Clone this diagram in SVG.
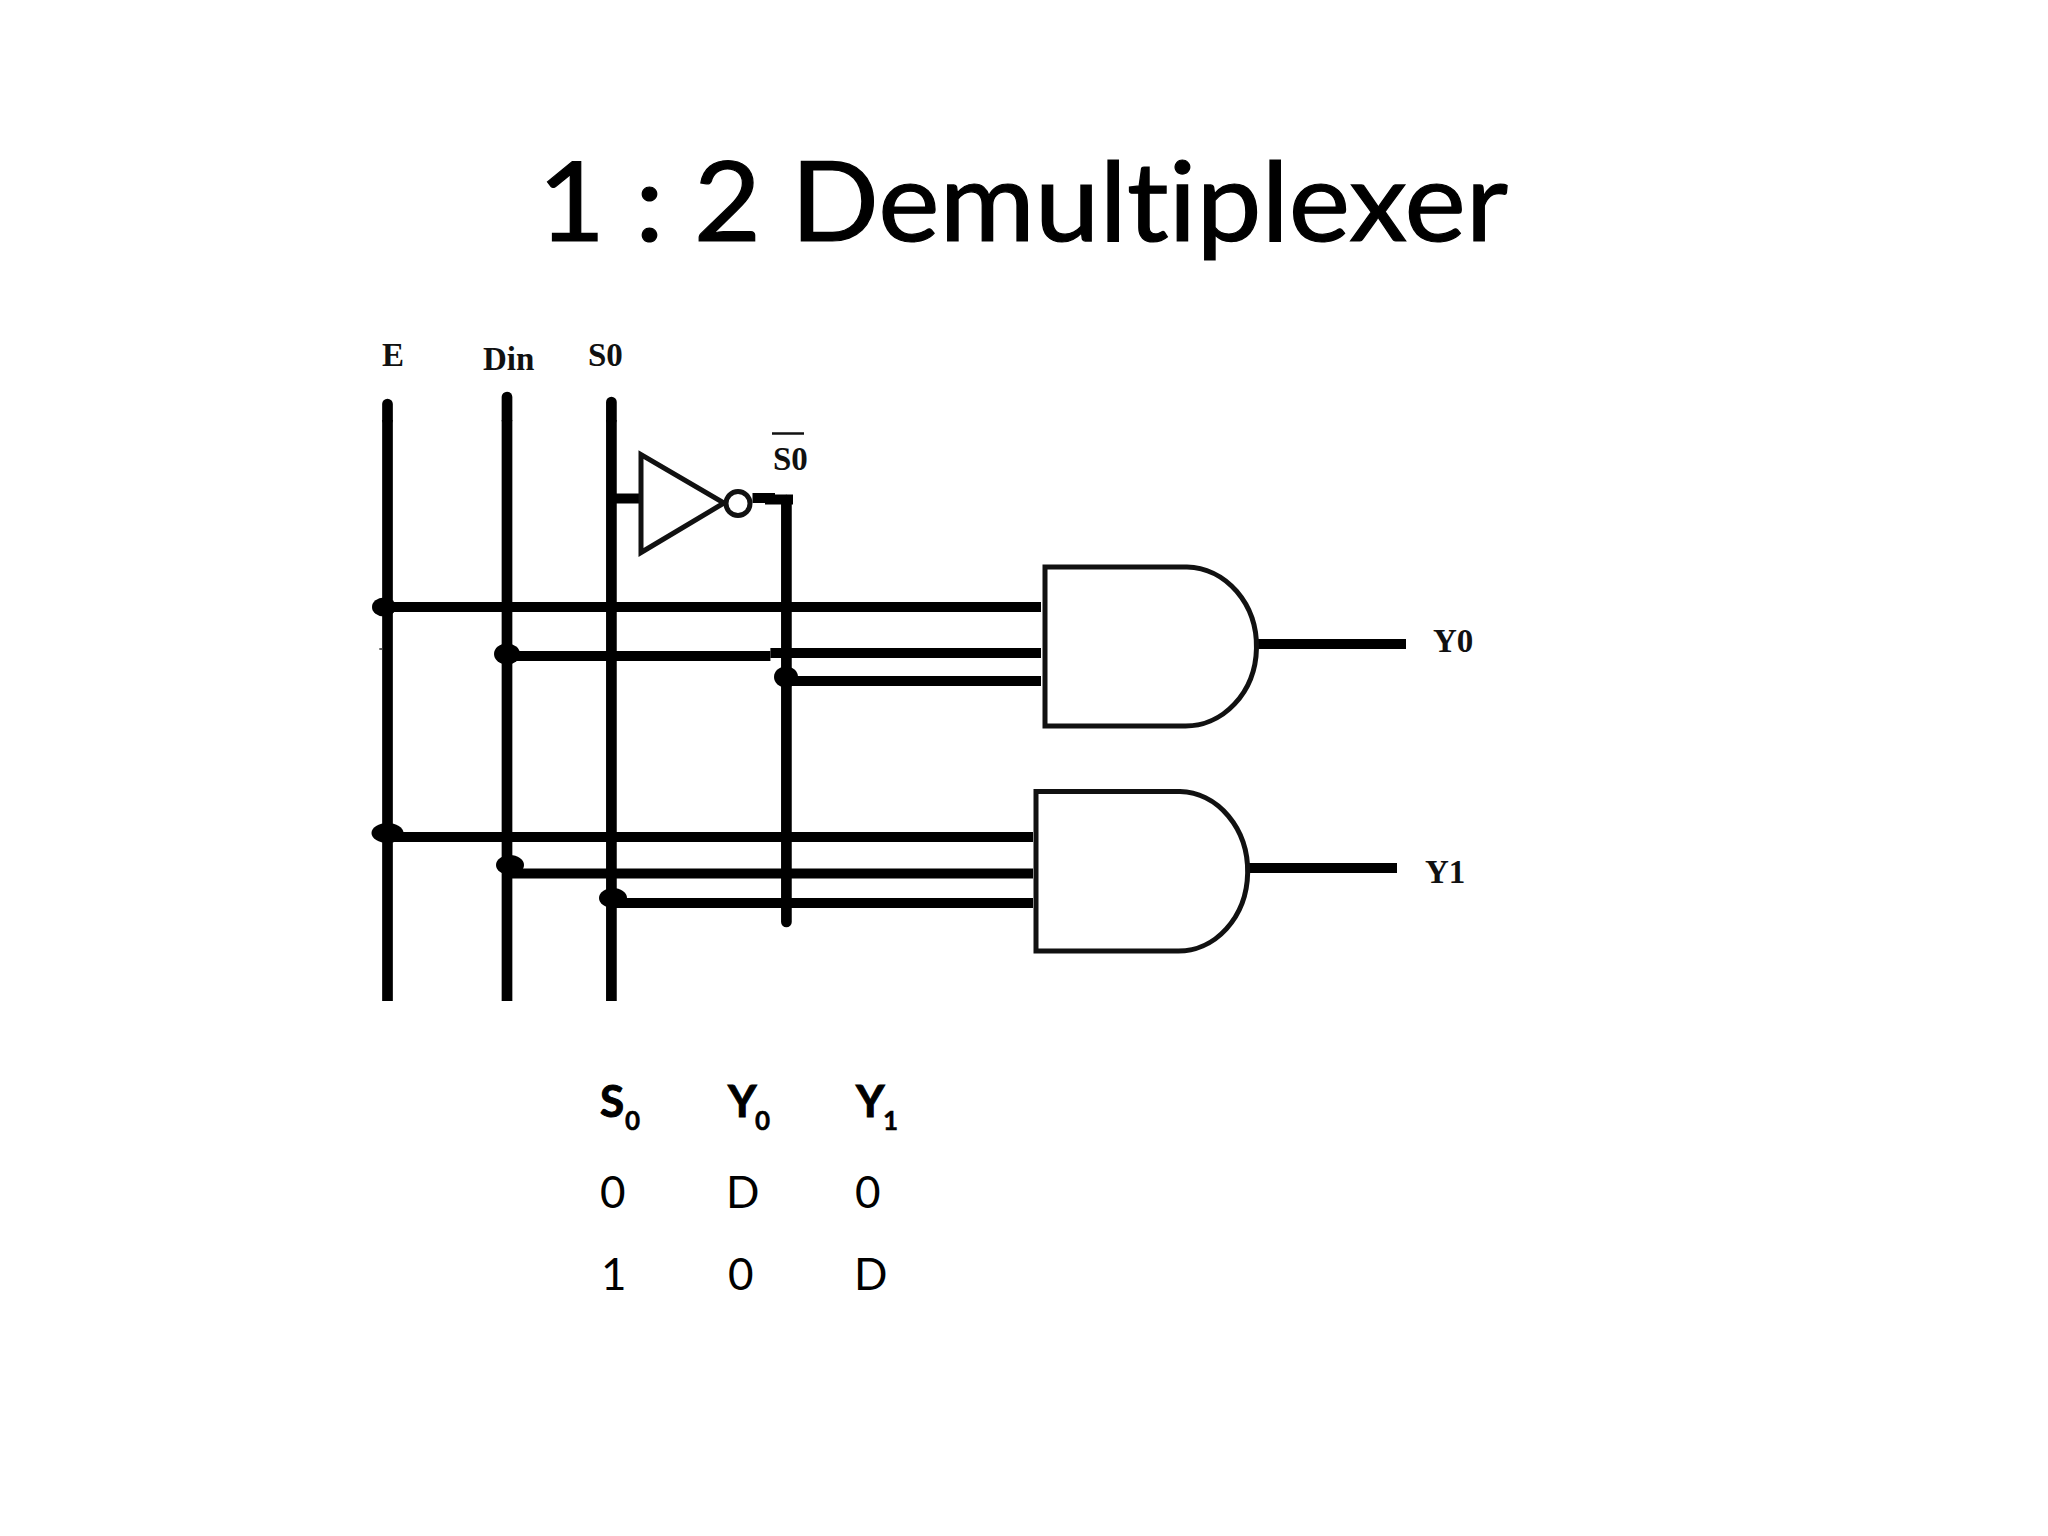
<svg xmlns="http://www.w3.org/2000/svg" width="2048" height="1536" viewBox="0 0 2048 1536">
<style>
.w{stroke:#000;stroke-width:10;fill:none}
.v{stroke:#000;stroke-width:10.700;fill:none}
.r{stroke-linecap:round}
.g{stroke:#111;stroke-width:5;fill:#fff}
.s{font-family:"Liberation Serif",serif;font-weight:bold;font-size:33px;fill:#111}
.c{font-family:Lato,"Open Sans",sans-serif;font-size:44px;fill:#000;font-variant-ligatures:none}
.b{font-weight:bold;stroke:#000;stroke-width:1}
.u{font-size:26px;stroke-width:.5}
</style>
<rect width="2048" height="1536" fill="#fff"/>
<text id="title" x="538" y="241" font-family="Lato,'Open Sans',sans-serif" font-size="110" fill="#000" stroke="#000" stroke-width="1.200" style="font-variant-ligatures:none" textLength="970" lengthAdjust="spacingAndGlyphs">1 : 2 Demultiplexer</text>
<g id="connectors">
<path class="v" d="M387.500 1001V420"/><path class="v r" d="M387.500 420V404"/>
<path class="v" d="M507 1001V420"/><path class="v r" d="M507 420V397"/>
<path class="v" d="M611.400 1001V420"/><path class="v r" d="M611.400 420V402"/>
<path class="v r" d="M786.400 922V500"/>
<path class="w" d="M384 607H1041"/>
<path class="w" d="M507 656H770.400"/>
<path class="w" d="M770.400 653H1041"/>
<path class="w" d="M786 681H1041"/>
<path class="w" d="M387 837H1033"/>
<path class="w" d="M507 873.500H1033"/>
<path class="w" d="M611 903H1033"/>
<path class="w" d="M616 498.500H643.600"/>
<path class="w" d="M752.500 498H770V499.500H793"/>
<path class="w" d="M1258 644H1406" stroke-width="9.500"/>
<path class="w" d="M1249 868H1397" stroke-width="9.500"/>
<path d="M379.300 649H383" stroke="#333" stroke-width="1.500"/>
<g fill="#000">
<ellipse cx="384" cy="607" rx="12" ry="9.500"/>
<ellipse cx="507" cy="654" rx="13" ry="10.500"/>
<ellipse cx="786" cy="677" rx="12" ry="10.500"/>
<ellipse cx="387.500" cy="833" rx="16" ry="10"/>
<ellipse cx="510" cy="865" rx="14" ry="10"/>
<ellipse cx="613" cy="898" rx="14" ry="10"/>
</g>
</g>
<g id="inverter">
<path class="g" d="M641 454.500V552.500L724 503Z"/>
<circle class="g" cx="738" cy="503.500" r="12" stroke-width="3"/>
</g>
<g id="and0"><path class="g" d="M1045 567H1187A71 79.500 0 0 1 1184 726H1045Z"/></g>
<g id="and1"><path class="g" d="M1036 791.500H1180A69 79.500 0 0 1 1177 951H1036Z"/></g>
<g id="labels">
<text class="s" x="382" y="366">E</text>
<text class="s" x="483" y="370">Din</text>
<text class="s" x="588" y="366">S0</text>
<text class="s" x="773" y="470">S0</text>
<path d="M772 433.500H804" stroke="#111" stroke-width="2.500"/>
<text class="s" x="1433" y="652">Y0</text>
<text class="s" x="1425" y="883">Y1</text>
</g>
<g id="table">
<text class="c b" x="600" y="1117">S</text><text class="c b u" x="625" y="1130">0</text>
<text class="c b" x="728" y="1117">Y</text><text class="c b u" x="755" y="1130">0</text>
<text class="c b" x="856" y="1117">Y</text><text class="c b u" x="883" y="1130">1</text>
<text class="c" x="600" y="1208">0</text>
<text class="c" x="726" y="1208">D</text>
<text class="c" x="855" y="1208">0</text>
<text class="c" x="601" y="1290">1</text>
<text class="c" x="728" y="1290">0</text>
<text class="c" x="854" y="1290">D</text>
</g>
</svg>
